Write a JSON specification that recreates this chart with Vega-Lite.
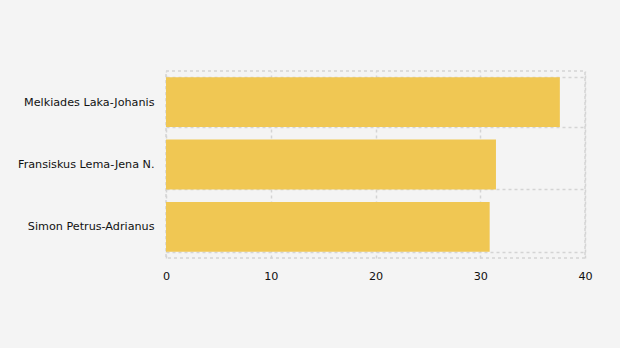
{
  "$schema": "https://vega.github.io/schema/vega-lite/v6.json",
  "width": 419,
  "height": 187,
  "autosize": "none",
  "padding": {"left": 166, "top": 71, "right": 35, "bottom": 90},
  "background": "#f4f4f4",
  "data": {"values": [
    {"name": "Melkiades Laka-Johanis", "value": 37.6},
    {"name": "Fransiskus Lema-Jena N.", "value": 31.5},
    {"name": "Simon Petrus-Adrianus", "value": 30.9}
  ]},
  "mark": {"type": "bar", "color": "#f0c753"},
  "encoding": {
    "y": {
      "field": "name", "type": "nominal", "sort": null,
      "scale": {"paddingInner": 0.2, "paddingOuter": 0.1},
      "axis": {
        "title": null, "domain": false, "ticks": false, "tickBand": "extent",
        "grid": true, "gridColor": "#d4d4d4", "gridDash": [3, 3], "gridWidth": 1.5,
        "labelFont": "DejaVu Sans", "labelFontSize": 11.2, "labelColor": "#111111", "labelPadding": 12
      }
    },
    "x": {
      "field": "value", "type": "quantitative",
      "scale": {"domain": [0, 40], "nice": false},
      "axis": {
        "title": null, "domain": false, "ticks": false, "values": [0, 10, 20, 30, 40],
        "labelFlush": false,
        "grid": true, "gridColor": "#d4d4d4", "gridDash": [3, 3], "gridWidth": 1.5,
        "labelFont": "DejaVu Sans", "labelFontSize": 11.2, "labelColor": "#111111", "labelPadding": 12
      }
    }
  },
  "config": {"view": {"stroke": "#d4d4d4", "strokeDash": [3, 3], "strokeWidth": 1.5}}
}
